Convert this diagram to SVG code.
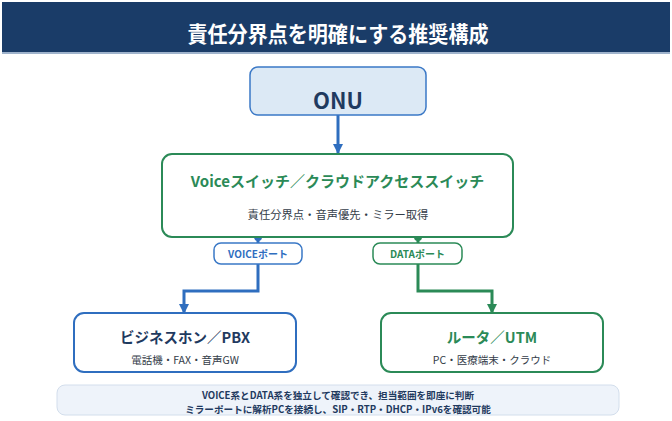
<svg xmlns="http://www.w3.org/2000/svg" width="672" height="421" viewBox="0 0 672 421">
<defs>
<style>
text{font-family:"Noto Sans CJK JP","Noto Sans",sans-serif;text-anchor:middle}
.b{fill:none;stroke:#2f6ebf;stroke-width:3;stroke-linejoin:miter}
.g{fill:none;stroke:#2b8a57;stroke-width:3;stroke-linejoin:miter}
.nav{fill:#1f3a5f;font-weight:700}
.sub{fill:#333c48;font-weight:400}
</style>
<marker id="ab" markerUnits="userSpaceOnUse" markerWidth="12" markerHeight="10" refX="9" refY="5" orient="auto"><path d="M0,0 L10,5 L0,10 Z" fill="#2f6ebf"/></marker>
<marker id="ag" markerUnits="userSpaceOnUse" markerWidth="12" markerHeight="10" refX="9" refY="5" orient="auto"><path d="M0,0 L10,5 L0,10 Z" fill="#2b8a57"/></marker>
</defs>
<rect x="0" y="0" width="672" height="421" fill="#ffffff"/>
<g id="title">
<rect x="2" y="2" width="668" height="51" fill="#1a3c68"/>
<rect x="2" y="52" width="668" height="2" fill="#9fb3cc"/>
<text x="338" y="42" font-size="21.5" font-weight="700" fill="#ffffff" textLength="301" lengthAdjust="spacingAndGlyphs">責任分界点を明確にする推奨構成</text>
</g>
<g id="connectors">
<path class="b" d="M338,115 V153" marker-end="url(#ab)"/>
<path class="b" d="M258,237 V291 H184 V313" marker-end="url(#ab)"/>
<path class="g" d="M418,237 V291 H492 V313" marker-end="url(#ag)"/>
<circle cx="258" cy="237" r="4" fill="#2f6ebf"/>
<circle cx="418" cy="237" r="4" fill="#2b8a57"/>
</g>
<g id="onu">
<rect x="250" y="67" width="176" height="48" rx="8" fill="#dce9f5" stroke="#3a78c6" stroke-width="1.5"/>
<text x="338" y="109" font-size="22" class="nav">ONU</text>
</g>
<g id="switch">
<rect x="162" y="154" width="351" height="83" rx="10" fill="#ffffff" stroke="#2b8a57" stroke-width="2"/>
<text x="337.5" y="187" font-size="15" font-weight="700" fill="#2b8a57">Voiceスイッチ／クラウドアクセススイッチ</text>
<text x="338" y="219" font-size="11.3" class="sub">責任分界点・音声優先・ミラー取得</text>
</g>
<g id="voice-port">
<rect x="214" y="243" width="88" height="21" rx="7" fill="#ffffff" stroke="#3a78c6" stroke-width="1.5"/>
<text x="258" y="258" font-size="10" font-weight="700" fill="#2f6ebf">VOICEポート</text>
</g>
<g id="data-port">
<rect x="373" y="243" width="89" height="21" rx="7" fill="#ffffff" stroke="#2b8a57" stroke-width="1.5"/>
<text x="417.5" y="258" font-size="10" font-weight="700" fill="#2b8a57">DATAポート</text>
</g>
<g id="pbx">
<rect x="74" y="313" width="222" height="59" rx="10" fill="#ffffff" stroke="#2f6ebf" stroke-width="2"/>
<text x="185" y="343" font-size="14.5" class="nav">ビジネスホン／PBX</text>
<text x="185" y="364" font-size="10.5" class="sub">電話機・FAX・音声GW</text>
</g>
<g id="router">
<rect x="381" y="313" width="222" height="59" rx="10" fill="#ffffff" stroke="#2b8a57" stroke-width="2"/>
<text x="492" y="343" font-size="14.5" font-weight="700" fill="#2b8a57">ルータ／UTM</text>
<text x="492" y="364" font-size="10.5" class="sub">PC・医療端末・クラウド</text>
</g>
<g id="note">
<rect x="57" y="385" width="562" height="30" rx="8" fill="#eef3fa" stroke="#d3deec" stroke-width="1"/>
<text x="338" y="399" font-size="9.6" class="nav">VOICE系とDATA系を独立して確認でき、担当範囲を即座に判断</text>
<text x="338" y="412.5" font-size="9.6" class="nav">ミラーポートに解析PCを接続し、SIP・RTP・DHCP・IPv6を確認可能</text>
</g>
</svg>
